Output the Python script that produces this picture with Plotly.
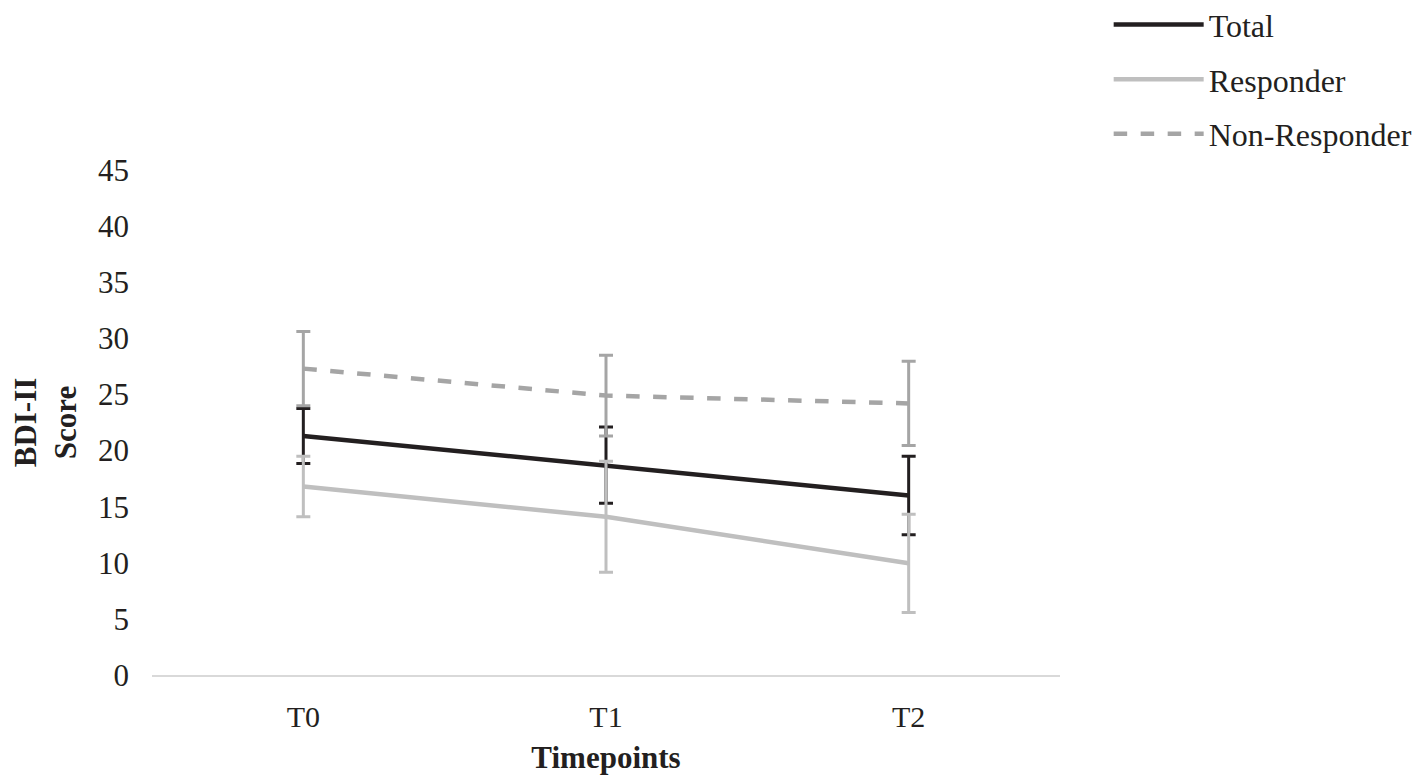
import plotly.graph_objects as go

timepoints = ["T0", "T1", "T2"]

total_mean = [21.3, 18.7, 16.0]
total_err = [2.45, 3.4, 3.5]

responder_mean = [16.8, 14.1, 9.95]
responder_err = [2.7, 4.95, 4.37]

nonresponder_mean = [27.3, 24.9, 24.2]
nonresponder_err = [3.3, 3.6, 3.75]

y_ticks = [0, 5, 10, 15, 20, 25, 30, 35, 40, 45]

serif = "Liberation Serif, Times New Roman, serif"

series = [
    ("Total", total_mean, total_err, "#231f20", "solid"),
    ("Responder", responder_mean, responder_err, "#bfbfbf", "solid"),
    ("Non-Responder", nonresponder_mean, nonresponder_err, "#a5a5a5", "dash"),
]

fig = go.Figure()
for name, mean, err, color, dash in series:
    fig.add_trace(
        go.Scatter(
            x=timepoints,
            y=mean,
            name=name,
            legendgroup=name,
            mode="lines",
            line=dict(color=color, width=4.5, dash=dash),
            error_y=dict(
                type="data",
                array=err,
                visible=True,
                color=color,
                thickness=3,
                width=7,
            ),
        )
    )

# the page body adds an 8px offset, so the figure is 8px smaller and margins shifted
fig.update_layout(
    width=1413,
    height=771,
    margin=dict(l=144, r=361, t=162, b=104, autoexpand=False),
    plot_bgcolor="white",
    paper_bgcolor="white",
    font=dict(family=serif, size=31, color="#231f20"),
    legend=dict(
        x=1.0536,
        xanchor="left",
        y=1.342,
        yanchor="top",
        font=dict(family=serif, size=32, color="#231f20"),
        tracegroupgap=10,
        itemwidth=90,
        bgcolor="rgba(0,0,0,0)",
    ),
    showlegend=True,
)
fig.update_xaxes(
    type="category",
    range=[-0.5, 2.5],
    showline=True,
    linecolor="#d9d9d9",
    linewidth=2,
    showgrid=False,
    ticks="",
    ticklabelstandoff=14,
    tickfont=dict(size=30),
    title=dict(text="<b>Timepoints</b>", font=dict(size=31), standoff=14),
)
fig.update_yaxes(
    range=[0, 45],
    tickvals=y_ticks,
    showline=False,
    showgrid=False,
    zeroline=False,
    ticks="",
    ticklabelstandoff=22,
    tickfont=dict(size=31),
    title=dict(text="<b>BDI-II<br>Score</b>", font=dict(size=31), standoff=16),
)

fig.write_html("out.html")
